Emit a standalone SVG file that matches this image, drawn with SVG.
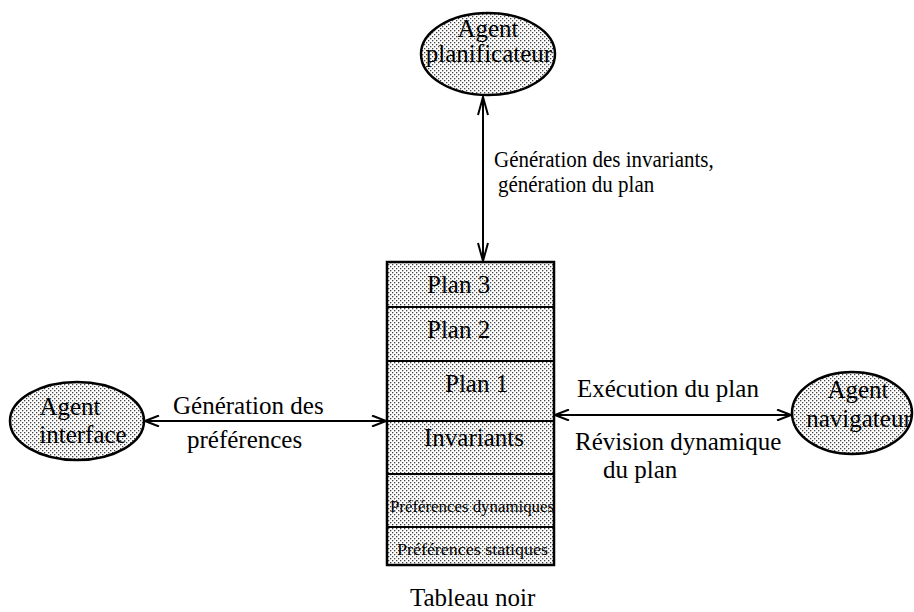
<svg xmlns="http://www.w3.org/2000/svg" width="914" height="612" viewBox="0 0 914 612">
  <defs>
    <!-- halftone dot screen used for the shaded shapes -->
    <pattern id="dots" width="4" height="4" patternUnits="userSpaceOnUse">
      <rect width="4" height="4" fill="#ffffff"/>
      <rect x="0" y="0" width="1.3" height="1.3" fill="#444"/>
      <rect x="2" y="2" width="1.3" height="1.3" fill="#444"/>
    </pattern>
    <marker id="open" viewBox="0 0 16 12" refX="15" refY="6" markerWidth="16" markerHeight="12" markerUnits="userSpaceOnUse" orient="auto-start-reverse">
      <path d="M1,0.5 L15,6 L1,11.5" fill="none" stroke="#000" stroke-width="2"/>
    </marker>
    <marker id="openv" viewBox="0 0 20 12" refX="19" refY="6" markerWidth="20" markerHeight="12" markerUnits="userSpaceOnUse" orient="auto-start-reverse">
      <path d="M1,1 L19,6 L1,11" fill="none" stroke="#000" stroke-width="2"/>
    </marker>
  </defs>
  <style>
    text { font-family: "Liberation Serif", "Times New Roman", serif; fill: #000; }
    .lbl { font-size: 25px; }
    .top { font-size: 21px; }
    .mid { text-anchor: middle; }
    .shape { fill: url(#dots); stroke: #000; stroke-width: 2.5; }
    .rule { stroke: #000; stroke-width: 2; }
    .link { stroke: #000; stroke-width: 2; fill: none; }
  </style>
  <rect width="914" height="612" fill="#ffffff"/>

  <!-- connectors -->
  <g id="connectors">
    <line class="link" x1="483" y1="97" x2="483" y2="261" marker-start="url(#openv)" marker-end="url(#openv)"/>
    <line class="link" x1="145" y1="421" x2="386" y2="421" marker-start="url(#open)" marker-end="url(#open)"/>
    <line class="link" x1="555" y1="415" x2="791" y2="415" marker-start="url(#open)" marker-end="url(#open)"/>
    <text class="top" transform="translate(494,167) scale(1,1.08)">Génération des invariants,</text>
    <text class="top" transform="translate(498,192) scale(1,1.08)">génération du plan</text>
    <text class="lbl" x="173" y="414">Génération des</text>
    <text class="lbl" x="187" y="448">préférences</text>
    <text class="lbl" x="577" y="397">Exécution du plan</text>
    <text class="lbl" x="575" y="450">Révision dynamique</text>
    <text class="lbl" x="603" y="478">du plan</text>
  </g>

  <!-- planning agent -->
  <g id="agent-planificateur">
    <ellipse class="shape" cx="488" cy="54" rx="67" ry="41"/>
    <text class="lbl mid" x="488" y="37">Agent</text>
    <text class="lbl mid" x="489" y="62">planificateur</text>
  </g>

  <!-- interface agent -->
  <g id="agent-interface">
    <ellipse class="shape" cx="77" cy="421" rx="67" ry="39"/>
    <text class="lbl mid" x="70" y="415">Agent</text>
    <text class="lbl mid" x="83" y="443">interface</text>
  </g>

  <!-- navigation agent -->
  <g id="agent-navigateur">
    <ellipse class="shape" cx="852" cy="413" rx="60" ry="41"/>
    <text class="lbl mid" x="858" y="398">Agent</text>
    <text class="lbl mid" x="859" y="427">navigateur</text>
  </g>

  <!-- blackboard with its layers -->
  <g id="tableau-noir">
    <rect class="shape" x="387" y="262" width="167" height="303"/>
    <line class="rule" x1="387" y1="307" x2="554" y2="307"/>
    <line class="rule" x1="387" y1="361" x2="554" y2="361"/>
    <line class="rule" x1="387" y1="421" x2="554" y2="421"/>
    <line class="rule" x1="387" y1="474" x2="554" y2="474"/>
    <line class="rule" x1="387" y1="527" x2="554" y2="527"/>
    <text class="lbl" x="427" y="293">Plan 3</text>
    <text class="lbl" x="427" y="338">Plan 2</text>
    <text class="lbl" x="445" y="392">Plan 1</text>
    <text class="lbl" x="424" y="446">Invariants</text>
    <text x="390" y="512" font-size="16" textLength="164" lengthAdjust="spacingAndGlyphs">Préférences dynamiques</text>
    <text x="397" y="555" font-size="16" textLength="151" lengthAdjust="spacingAndGlyphs">Préférences statiques</text>
    <text class="lbl" x="410" y="606">Tableau noir</text>
  </g>
</svg>
